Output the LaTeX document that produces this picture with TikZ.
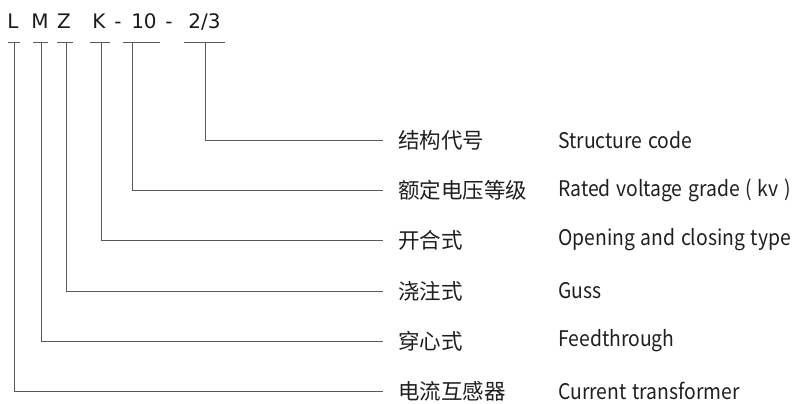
\documentclass[tikz,border=0pt]{standalone}
\usepackage{fontspec}
\newfontfamily\cjk{Noto Sans CJK SC}
\newfontfamily\enfont[FakeStretch=0.9,WordSpace=1.3]{Noto Sans CJK SC}
\newfontfamily\codefont{DejaVu Sans}
\begin{document}
\begin{tikzpicture}[x=1pt,y=-1pt,
  codetxt/.style={font=\codefont\fontsize{20}{24}\selectfont,text=black!90,inner sep=0pt,anchor=base},
  zhtxt/.style={font=\cjk\fontsize{21.5}{25}\selectfont,text=black!88,inner sep=0pt,anchor=west},
  entxt/.style={font=\enfont\fontsize{21.5}{25}\selectfont,text=black!88,inner sep=0pt,anchor=west},
  link/.style={draw=black!65,line width=1pt},
  tick/.style={draw=black!65,line width=1pt}]
\useasboundingbox (0,0) rectangle (801,404);
% code letters
\node[codetxt] (L) at (13,29) {L};
\node[codetxt] (M) at (40,29) {M};
\node[codetxt] (Z) at (64,29) {Z};
\node[codetxt] (K) at (99,29) {K};
\node[codetxt] (d1) at (118,29) {-};
\node[codetxt] (ten) at (144,29) {10};
\node[codetxt] (d2) at (169,29) {-};
\node[codetxt] (frac) at (204.5,29) {2/3};
% tick bars
\coordinate (tL) at (14,43);
\coordinate (tM) at (41,43);
\coordinate (tZ) at (66,43);
\coordinate (tK) at (101,43);
\coordinate (tT) at (132,43);
\coordinate (tF) at (205,43);
\draw[tick] (8,43) -- (20,43);
\draw[tick] (33,43) -- (48,43);
\draw[tick] (57,43) -- (73,43);
\draw[tick] (90,43) -- (110,43);
\draw[tick] (123,43) -- (160,43);
\draw[tick] (184,43) -- (225,43);
% labels
\node[zhtxt] (c1) at (398,140) {结构代号};
\node[zhtxt] (c2) at (398,190) {额定电压等级};
\node[zhtxt] (c3) at (398,240) {开合式};
\node[zhtxt] (c4) at (398,291) {浇注式};
\node[zhtxt] (c5) at (398,341) {穿心式};
\node[zhtxt] (c6) at (398,391) {电流互感器};
\node[entxt] (e1) at (558,140) {Structure code};
\node[entxt] (e2) at (558,190) {Rated voltage grade ( kv )};
\node[entxt] (e3) at (558,240) {Opening and closing type};
\node[entxt] (e4) at (558,291) {Guss};
\node[entxt] (e5) at (558,341) {Feedthrough};
\node[entxt] (e6) at (558,391) {Current transformer};
% connectors
\draw[link] (tF) |- ([xshift=-15pt]c1.west);
\draw[link] (tT) |- ([xshift=-15pt]c2.west);
\draw[link] (tK) |- ([xshift=-15pt]c3.west);
\draw[link] (tZ) |- ([xshift=-15pt]c4.west);
\draw[link] (tM) |- ([xshift=-15pt]c5.west);
\draw[link] (tL) |- ([xshift=-15pt]c6.west);
\end{tikzpicture}
\end{document}
